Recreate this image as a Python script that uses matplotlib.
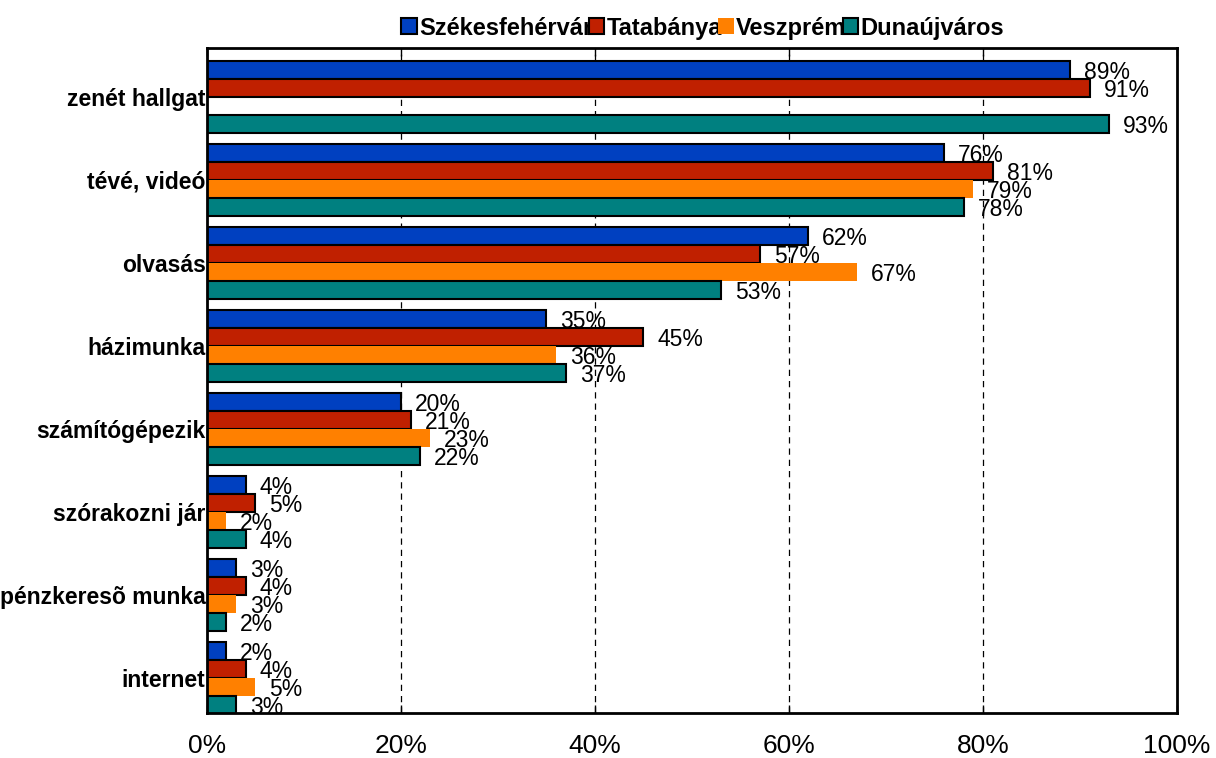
import numpy as np
import matplotlib
matplotlib.use('Agg')
import matplotlib.pyplot as plt

categories = ['zenét hallgat', 'tévé, videó', 'olvasás', 'házimunka',
              'számítógépezik', 'szórakozni jár', 'pénzkeresõ munka', 'internet']
cities = ['Székesfehérvár', 'Tatabánya', 'Veszprém', 'Dunaújváros']
szekesfehervar = [89, 76, 62, 35, 20, 4, 3, 2]
tatabanya = [91, 81, 57, 45, 21, 5, 4, 4]
veszprem = [np.nan, 79, 67, 36, 23, 2, 3, 5]
dunaujvaros = [93, 78, 53, 37, 22, 4, 2, 3]
xticks = [0, 20, 40, 60, 80, 100]
xtick_labels = ['0%', '20%', '40%', '60%', '80%', '100%']

colors = ['#0040C0', '#C02000', '#FF8000', '#008080']
edges = ['black', 'black', 'none', 'black']

plt.rcParams['font.family'] = ['Liberation Sans', 'DejaVu Sans']

fig = plt.figure(figsize=(12.16, 7.58), dpi=100)
ax = fig.add_axes([0.1702, 0.0594, 0.7977, 0.8773])

y = np.arange(len(categories))
h = 18 / 83
series = [szekesfehervar, tatabanya, veszprem, dunaujvaros]
for j, vals in enumerate(series):
    pos = y + (j - 1.5) * h
    ax.barh(pos, vals, height=h, color=colors[j], edgecolor=edges[j],
            linewidth=1.5, label=cities[j], zorder=2)
    # data labels to the right of each bar
    for p, v in zip(pos, vals):
        if np.isnan(v):
            continue
        ax.annotate(f'{v:.0f}%', (v, p), xytext=(10, -1.5), textcoords='offset points',
                    ha='left', va='center', fontsize=16.5, zorder=3)

ax.set_xlim(0, 100)
ax.set_ylim(7 + 35 / 83, -49 / 83)
ax.set_xticks(xticks)
ax.set_xticklabels(xtick_labels, fontsize=19)
ax.set_yticks(y)
ax.set_yticklabels(categories, fontsize=16.5, fontweight='bold')
ax.tick_params(axis='y', length=0, pad=1)
ax.tick_params(axis='x', direction='in', top=True, length=6, width=1, pad=15)
ax.yaxis.set_zorder(1)

for gx in [20, 40, 60, 80]:
    ax.axvline(gx, color='black', linestyle=(0, (5, 4)), linewidth=0.9, zorder=1)

for s in ax.spines.values():
    s.set_linewidth(2)
    s.set_color('black')

fig.legend(loc='center', bbox_to_anchor=(0.578, 0.963), ncol=4, frameon=False,
           prop={'weight': 'bold', 'size': 17}, handlelength=0.65, handleheight=0.65,
           handletextpad=0.1, columnspacing=-0.15, borderpad=0)

fig.savefig('out.png', dpi=100)
